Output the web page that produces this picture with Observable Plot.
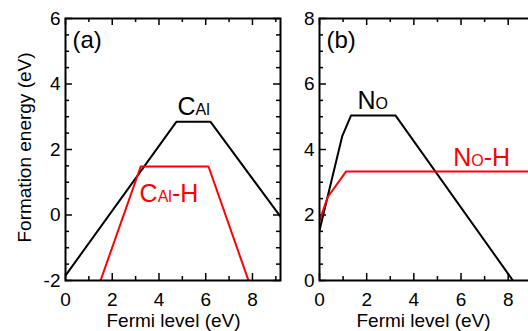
<!DOCTYPE html>
<html><head><meta charset="utf-8">
<script src="https://cdn.jsdelivr.net/npm/d3@7"></script>
<script src="https://cdn.jsdelivr.net/npm/@observablehq/plot@0.6"></script>
<style>
html,body{margin:0;padding:0;background:#fff;}
#wrap{position:relative;width:528px;height:331px;overflow:hidden;background:#fff;}
#wrap svg{position:absolute;top:0;overflow:visible;}
</style></head><body><div id="wrap"></div>
<script>
// ---- data ----
const fermiCAl   = [0, 4.75, 6.2, 9.2];
const energyCAl  = [-1.85, 2.85, 2.85, -0.05];
const fermiCAlH  = [1.5, 3.22, 6.12, 7.83];
const energyCAlH = [-2, 1.48, 1.48, -2];
const fermiNO    = [0, 0.96, 1.34, 3.22, 8.2];
const energyNO   = [1.53, 4.4, 5.04, 5.04, 0];
const fermiNOH   = [0, 0.35, 1.13, 9.2];
const energyNOH  = [1.83, 2.55, 3.33, 3.33];
const xTicks  = [0, 2, 4, 6, 8];
const yTicksA = [-2, 0, 2, 4, 6];
const yTicksB = [0, 2, 4, 6, 8];
const panelNames = ["(a)", "(b)"];
const seriesNames = ["C{Al}", "C{Al}-H", "N{O}", "N{O}-H"];
const xTitle = "Fermi level (eV)";
const yTitle = "Formation energy (eV)";

const FONT = "Liberation Sans, Arial, Helvetica, sans-serif";
const rows = (xs, ys) => xs.map((x, i) => ({x, y: ys[i]}));

function subscriptify(svg, subSize) {
  svg.querySelectorAll("text").forEach(t => {
    const s = t.textContent;
    if (!s.includes("{")) return;
    t.textContent = "";
    s.split(/(\{[^}]*\})/).forEach(part => {
      if (!part) return;
      const ts = document.createElementNS("http://www.w3.org/2000/svg", "tspan");
      if (part.startsWith("{")) { ts.textContent = part.slice(1, -1); ts.setAttribute("font-size", subSize); }
      else ts.textContent = part;
      t.appendChild(ts);
    });
  });
}

function panel({width, marginLeft, marginRight, yDomain, yTicks, series, labels, panelName, showYTitle, xTitleDx}) {
  const height = 331, marginTop = 18, marginBottom = 51;
  const H = height - marginTop - marginBottom;
  const W = width - marginLeft - marginRight;
  const xDomain = [0, 9.2];
  const xMinor = d3.range(1, 9.2, 2);
  const yMinor = d3.range(yDomain[0], yDomain[1] + 0.01, 0.5).filter(v => !yTicks.includes(v));
  const tickStyle = {stroke: "black", strokeWidth: 1.5};
  const marks = [
    Plot.ruleX(xTicks, {x: d => d, insetTop: H - 7, ...tickStyle}),
    Plot.ruleX(xTicks, {x: d => d, insetBottom: H - 7, ...tickStyle}),
    Plot.ruleX(xMinor, {x: d => d, insetTop: H - 4, ...tickStyle}),
    Plot.ruleX(xMinor, {x: d => d, insetBottom: H - 4, ...tickStyle}),
    Plot.ruleY(yTicks, {y: d => d, insetRight: W - 7, ...tickStyle}),
    Plot.ruleY(yTicks, {y: d => d, insetLeft: W - 7, ...tickStyle}),
    Plot.ruleY(yMinor, {y: d => d, insetRight: W - 4, ...tickStyle}),
    Plot.ruleY(yMinor, {y: d => d, insetLeft: W - 4, ...tickStyle}),
    Plot.axisX({ticks: xTicks, tickSize: 0, tickPadding: 12, tickFormat: d => String(d), label: null, fontSize: 19}),
    Plot.axisY({ticks: yTicks, tickSize: 0, tickPadding: 5, tickFormat: d => String(d), label: null, fontSize: 19}),
    ...series.map(s => Plot.line(s.data, {x: "x", y: "y", stroke: s.color, strokeWidth: 2, clip: true})),
    ...labels.map(l => Plot.text([l.text], {x: l.x, y: l.y, text: d => d, fill: l.color, fontSize: 25, textAnchor: "start", lineAnchor: "bottom"})),
    Plot.text([panelName], {frameAnchor: "top-left", dx: 7, dy: 29, text: d => d, fontSize: 24, textAnchor: "start", lineAnchor: "bottom"}),
    Plot.text([xTitle], {frameAnchor: "bottom-left", dx: xTitleDx, dy: 46, text: d => d, fontSize: 19, textAnchor: "middle", lineAnchor: "bottom"}),
    Plot.frame({stroke: "black", strokeWidth: 2})
  ];
  if (showYTitle) marks.push(Plot.text([yTitle], {frameAnchor: "left", dx: -41, dy: -2, rotate: -90, text: d => d, fontSize: 19, textAnchor: "middle", lineAnchor: "middle"}));
  const svg = Plot.plot({
    width, height, marginTop, marginBottom, marginLeft, marginRight,
    style: {fontFamily: FONT, color: "black", background: "white", overflow: "visible"},
    x: {domain: xDomain},
    y: {domain: yDomain},
    marks
  });
  subscriptify(svg, 16);
  return svg;
}

const wrap = document.getElementById("wrap");
const left = panel({
  width: 285, marginLeft: 65, marginRight: 5,
  yDomain: [-2, 6], yTicks: yTicksA,
  series: [{data: rows(fermiCAl, energyCAl), color: "black"}, {data: rows(fermiCAlH, energyCAlH), color: "#ff0000"}],
  labels: [{text: seriesNames[0], x: 4.79, y: 3.04, color: "black"}, {text: seriesNames[1], x: 3.17, y: 0.39, color: "#ff0000"}],
  panelName: panelNames[0], showYTitle: true, xTitleDx: 108
});
left.style.left = "0px";
const right = panel({
  width: 255, marginLeft: 34, marginRight: 4,
  yDomain: [0, 8], yTicks: yTicksB,
  series: [{data: rows(fermiNO, energyNO), color: "black"}, {data: rows(fermiNOH, energyNOH), color: "#ff0000"}],
  labels: [{text: seriesNames[2], x: 1.61, y: 5.25, color: "black"}, {text: seriesNames[3], x: 5.67, y: 3.51, color: "#ff0000"}],
  panelName: panelNames[1], showYTitle: false, xTitleDx: 104
});
right.style.left = "285px";
wrap.appendChild(left);
wrap.appendChild(right);
</script></body></html>
